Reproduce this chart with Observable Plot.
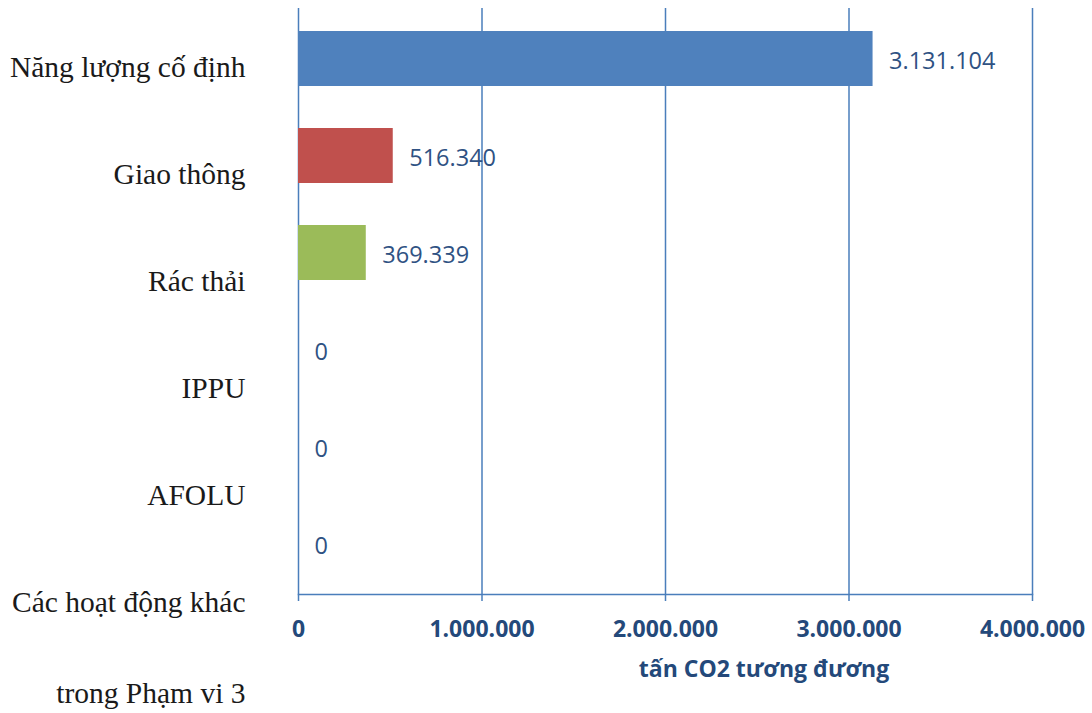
<!DOCTYPE html>
<html>
<head>
<meta charset="utf-8">
<script src="https://cdn.jsdelivr.net/npm/d3@7"></script>
<script src="https://cdn.jsdelivr.net/npm/@observablehq/plot@0.6"></script>
<style>
  html, body { margin: 0; padding: 0; background: #fff; }
  #wrap { position: relative; width: 1092px; height: 713px; overflow: hidden; }
  #wrap svg { position: absolute; left: 0; top: 0; background: transparent; }
  #xtitle { position: absolute; top: 650px; left: 764px; transform: translateX(-50%);
    font: bold 23px "Open Sans", sans-serif; color: #24497a; line-height: 36px; white-space: nowrap; }
</style>
</head>
<body>
<div id="wrap"></div>
<script>
const categories = ["Năng lượng cố định", "Giao thông", "Rác thải", "IPPU", "AFOLU", "Các hoạt động khác trong Phạm vi 3"];
const labelLine1 = ["Năng lượng cố định", "Giao thông", "Rác thải", "IPPU", "AFOLU", "Các hoạt động khác"];
const labelLine2 = ["", "", "", "", "", "trong Phạm vi 3"];
const values = [3131104, 516340, 369339, 0, 0, 0];
const barColors = ["#4f81bd", "#c0504d", "#9bbb59", "#4f81bd", "#4f81bd", "#4f81bd"];
const xTicks = [0, 1000000, 2000000, 3000000, 4000000];
const xTitle = "tấn CO2 tương đương";

const vn = d3.formatLocale({decimal: ",", thousands: ".", grouping: [3], currency: ["", "đ"]});
const fmt = vn.format(",d");
const data = categories.map((c, i) => ({cat: c, value: values[i], l1: labelLine1[i], l2: labelLine2[i]}));
const gridColor = "#4a7ebb";

const main = Plot.plot({
  width: 1092, height: 650,
  marginLeft: 298, marginRight: 60, marginTop: 8, marginBottom: 56,
  style: {fontFamily: "'Open Sans', sans-serif", background: "transparent"},
  x: {domain: [0, 4000000]},
  y: {domain: categories, paddingInner: 0.43, paddingOuter: 0.215, axis: null},
  color: {domain: categories, range: barColors},
  marks: [
    Plot.gridX(xTicks, {stroke: gridColor, strokeOpacity: 1, strokeWidth: 1.5}),
    Plot.frame({anchor: "bottom", stroke: gridColor, strokeWidth: 1.5}),
    Plot.barX(data, {x: "value", y: "cat", fill: "cat"}),
    Plot.text(data, {x: "value", y: "cat", text: d => fmt(d.value), dx: 16, dy: 2, textAnchor: "start",
      fill: "#2f5283", fontSize: 23.5}),
    Plot.axisX(xTicks, {tickFormat: fmt, tickSize: 7, tickPadding: 19, stroke: gridColor, strokeWidth: 1.5,
      fill: "#24497a", fontSize: 23, fontWeight: "bold", label: null})
  ]
});

const labels = Plot.plot({
  width: 298, height: 713,
  marginLeft: 0, marginRight: 53, marginTop: 0, marginBottom: 0,
  style: {fontFamily: "'Liberation Serif', serif", background: "transparent"},
  x: {axis: null},
  y: {type: "point", domain: categories, range: [67, 602], padding: 0, axis: null},
  marks: [
    Plot.text(data, {y: "cat", text: "l1", frameAnchor: "right", textAnchor: "end",
      lineAnchor: "middle", fontSize: 29.5, fill: "#1a1a1a"}),
    Plot.text(data, {y: "cat", text: "l2", frameAnchor: "right", textAnchor: "end", dy: 91,
      lineAnchor: "middle", fontSize: 29.5, fill: "#1a1a1a"})
  ]
});

const wrap = document.getElementById("wrap");
wrap.appendChild(main);
wrap.appendChild(labels);
const t = document.createElement("div");
t.id = "xtitle";
t.textContent = xTitle;
wrap.appendChild(t);
</script>
</body>
</html>
